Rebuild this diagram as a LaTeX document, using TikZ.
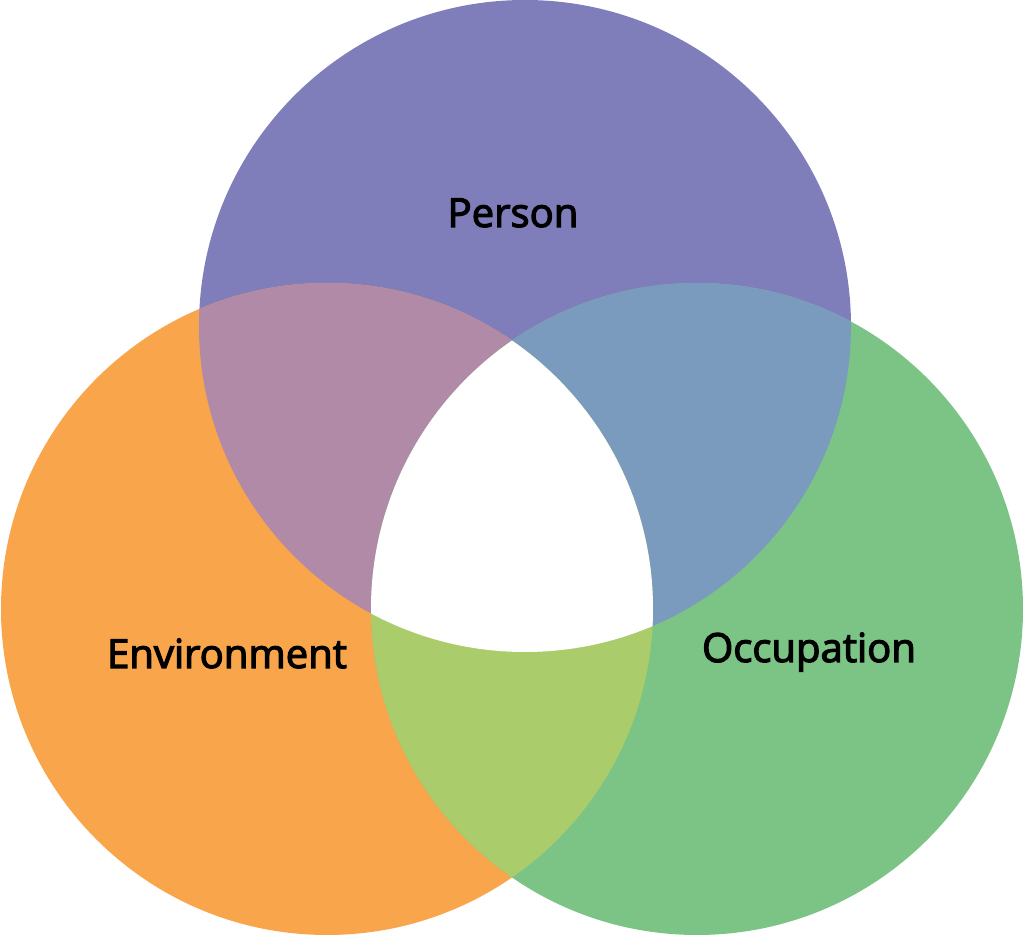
\documentclass[tikz,border=0pt]{standalone}
\usepackage{fontspec}
\setsansfont{Open Sans}[UprightFeatures={FakeBold=3}]
\usepackage{xcolor}
\usetikzlibrary{positioning}

\definecolor{personcol}{HTML}{807EBA}
\definecolor{envcol}{HTML}{F9A54C}
\definecolor{occcol}{HTML}{7BC485}
\definecolor{pecol}{HTML}{B08AA6}
\definecolor{pocol}{HTML}{7A9BBE}
\definecolor{eocol}{HTML}{ABCC6B}

\tikzset{
  label text/.style={font=\sffamily\fontsize{11.4}{13}\selectfont, text=black, anchor=base, inner sep=0pt}
}

\begin{document}
\begin{tikzpicture}
\useasboundingbox (0,0) rectangle (10.24,-9.36);
\def\rad{3.26}
% Centres
\coordinate (P) at (5.25,-3.26);
\coordinate (E) at (3.27,-6.09);
\coordinate (O) at (6.97,-6.09);
% Circles
\foreach \c/\p in {personcol/P, envcol/E, occcol/O} {
    \fill[\c] (\p) circle (\rad);
}
% Pairwise overlaps
\foreach \c/\a/\b in {pecol/P/E, pocol/P/O, eocol/E/O} {
    \begin{scope}
        \clip (\a) circle (\rad);
        \fill[\c] (\b) circle (\rad);
    \end{scope}
}
% Centre
\begin{scope}
    \clip (P) circle (\rad);
    \clip (E) circle (\rad);
    \fill[white] (O) circle (\rad);
\end{scope}
% Labels
\node[label text] (person) at (5.13,-2.27) {Person};
\node[label text] (env) at (2.27,-6.68) {Environment};
\node[label text] (occ) at (8.09,-6.62) {Occupation};
\end{tikzpicture}
\end{document}
